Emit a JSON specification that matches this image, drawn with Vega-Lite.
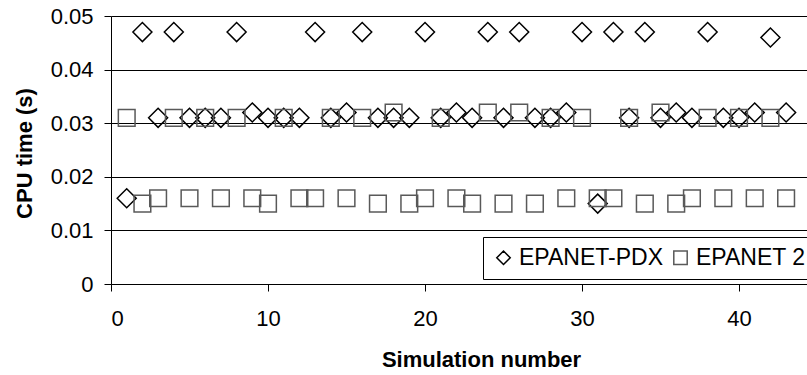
{
  "$schema": "https://vega.github.io/schema/vega-lite/v6.json",
  "width": 696,
  "height": 268,
  "autosize": {"type": "none"},
  "padding": {"left": 111, "top": 16, "right": 0, "bottom": 91},
  "background": "white",
  "config": {
    "font": "Liberation Sans",
    "view": {"stroke": null},
    "axis": {
      "labelFont": "Liberation Sans",
      "titleFont": "Liberation Sans",
      "labelFontSize": 22,
      "titleFontSize": 22,
      "titleFontWeight": "bold",
      "labelColor": "#000",
      "titleColor": "#000",
      "domainColor": "#000",
      "tickColor": "#000",
      "gridColor": "#000",
      "gridOpacity": 1,
      "tickSize": 7
    },
    "legend": {
      "labelFont": "Liberation Sans",
      "labelFontSize": 23,
      "labelColor": "#000"
    }
  },
  "data": {
    "values": [
      {"sim": 1, "model": "EPANET-PDX", "cpu": 0.016},
      {"sim": 2, "model": "EPANET-PDX", "cpu": 0.047},
      {"sim": 3, "model": "EPANET-PDX", "cpu": 0.031},
      {"sim": 4, "model": "EPANET-PDX", "cpu": 0.047},
      {"sim": 5, "model": "EPANET-PDX", "cpu": 0.031},
      {"sim": 6, "model": "EPANET-PDX", "cpu": 0.031},
      {"sim": 7, "model": "EPANET-PDX", "cpu": 0.031},
      {"sim": 8, "model": "EPANET-PDX", "cpu": 0.047},
      {"sim": 9, "model": "EPANET-PDX", "cpu": 0.032},
      {"sim": 10, "model": "EPANET-PDX", "cpu": 0.031},
      {"sim": 11, "model": "EPANET-PDX", "cpu": 0.031},
      {"sim": 12, "model": "EPANET-PDX", "cpu": 0.031},
      {"sim": 13, "model": "EPANET-PDX", "cpu": 0.047},
      {"sim": 14, "model": "EPANET-PDX", "cpu": 0.031},
      {"sim": 15, "model": "EPANET-PDX", "cpu": 0.032},
      {"sim": 16, "model": "EPANET-PDX", "cpu": 0.047},
      {"sim": 17, "model": "EPANET-PDX", "cpu": 0.031},
      {"sim": 18, "model": "EPANET-PDX", "cpu": 0.031},
      {"sim": 19, "model": "EPANET-PDX", "cpu": 0.031},
      {"sim": 20, "model": "EPANET-PDX", "cpu": 0.047},
      {"sim": 21, "model": "EPANET-PDX", "cpu": 0.031},
      {"sim": 22, "model": "EPANET-PDX", "cpu": 0.032},
      {"sim": 23, "model": "EPANET-PDX", "cpu": 0.031},
      {"sim": 24, "model": "EPANET-PDX", "cpu": 0.047},
      {"sim": 25, "model": "EPANET-PDX", "cpu": 0.031},
      {"sim": 26, "model": "EPANET-PDX", "cpu": 0.047},
      {"sim": 27, "model": "EPANET-PDX", "cpu": 0.031},
      {"sim": 28, "model": "EPANET-PDX", "cpu": 0.031},
      {"sim": 29, "model": "EPANET-PDX", "cpu": 0.032},
      {"sim": 30, "model": "EPANET-PDX", "cpu": 0.047},
      {"sim": 31, "model": "EPANET-PDX", "cpu": 0.015},
      {"sim": 32, "model": "EPANET-PDX", "cpu": 0.047},
      {"sim": 33, "model": "EPANET-PDX", "cpu": 0.031},
      {"sim": 34, "model": "EPANET-PDX", "cpu": 0.047},
      {"sim": 35, "model": "EPANET-PDX", "cpu": 0.031},
      {"sim": 36, "model": "EPANET-PDX", "cpu": 0.032},
      {"sim": 37, "model": "EPANET-PDX", "cpu": 0.031},
      {"sim": 38, "model": "EPANET-PDX", "cpu": 0.047},
      {"sim": 39, "model": "EPANET-PDX", "cpu": 0.031},
      {"sim": 40, "model": "EPANET-PDX", "cpu": 0.031},
      {"sim": 41, "model": "EPANET-PDX", "cpu": 0.032},
      {"sim": 42, "model": "EPANET-PDX", "cpu": 0.046},
      {"sim": 43, "model": "EPANET-PDX", "cpu": 0.032},
      {"sim": 1, "model": "EPANET 2", "cpu": 0.031},
      {"sim": 2, "model": "EPANET 2", "cpu": 0.015},
      {"sim": 3, "model": "EPANET 2", "cpu": 0.016},
      {"sim": 4, "model": "EPANET 2", "cpu": 0.031},
      {"sim": 5, "model": "EPANET 2", "cpu": 0.016},
      {"sim": 6, "model": "EPANET 2", "cpu": 0.031},
      {"sim": 7, "model": "EPANET 2", "cpu": 0.016},
      {"sim": 8, "model": "EPANET 2", "cpu": 0.031},
      {"sim": 9, "model": "EPANET 2", "cpu": 0.016},
      {"sim": 10, "model": "EPANET 2", "cpu": 0.015},
      {"sim": 11, "model": "EPANET 2", "cpu": 0.031},
      {"sim": 12, "model": "EPANET 2", "cpu": 0.016},
      {"sim": 13, "model": "EPANET 2", "cpu": 0.016},
      {"sim": 14, "model": "EPANET 2", "cpu": 0.031},
      {"sim": 15, "model": "EPANET 2", "cpu": 0.016},
      {"sim": 16, "model": "EPANET 2", "cpu": 0.031},
      {"sim": 17, "model": "EPANET 2", "cpu": 0.015},
      {"sim": 18, "model": "EPANET 2", "cpu": 0.032},
      {"sim": 19, "model": "EPANET 2", "cpu": 0.015},
      {"sim": 20, "model": "EPANET 2", "cpu": 0.016},
      {"sim": 21, "model": "EPANET 2", "cpu": 0.031},
      {"sim": 22, "model": "EPANET 2", "cpu": 0.016},
      {"sim": 23, "model": "EPANET 2", "cpu": 0.015},
      {"sim": 24, "model": "EPANET 2", "cpu": 0.032},
      {"sim": 25, "model": "EPANET 2", "cpu": 0.015},
      {"sim": 26, "model": "EPANET 2", "cpu": 0.032},
      {"sim": 27, "model": "EPANET 2", "cpu": 0.015},
      {"sim": 28, "model": "EPANET 2", "cpu": 0.031},
      {"sim": 29, "model": "EPANET 2", "cpu": 0.016},
      {"sim": 30, "model": "EPANET 2", "cpu": 0.031},
      {"sim": 31, "model": "EPANET 2", "cpu": 0.016},
      {"sim": 32, "model": "EPANET 2", "cpu": 0.016},
      {"sim": 33, "model": "EPANET 2", "cpu": 0.031},
      {"sim": 34, "model": "EPANET 2", "cpu": 0.015},
      {"sim": 35, "model": "EPANET 2", "cpu": 0.032},
      {"sim": 36, "model": "EPANET 2", "cpu": 0.015},
      {"sim": 37, "model": "EPANET 2", "cpu": 0.016},
      {"sim": 38, "model": "EPANET 2", "cpu": 0.031},
      {"sim": 39, "model": "EPANET 2", "cpu": 0.016},
      {"sim": 40, "model": "EPANET 2", "cpu": 0.031},
      {"sim": 41, "model": "EPANET 2", "cpu": 0.016},
      {"sim": 42, "model": "EPANET 2", "cpu": 0.031},
      {"sim": 43, "model": "EPANET 2", "cpu": 0.016}
    ]
  },
  "encoding": {
    "x": {
      "field": "sim",
      "type": "quantitative",
      "scale": {"domain": [0, 44.33], "nice": false, "zero": false},
      "axis": {
        "values": [0, 10, 20, 30, 40],
        "grid": false,
        "title": "Simulation number",
        "labelPadding": 17,
        "titleX": 370,
        "titleY": 82,
        "titleBaseline": "alphabetic",
        "titleAlign": "center"
      }
    },
    "y": {
      "field": "cpu",
      "type": "quantitative",
      "scale": {"domain": [0, 0.05], "nice": false},
      "axis": {
        "values": [0, 0.01, 0.02, 0.03, 0.04, 0.05],
        "format": "~g",
        "grid": true,
        "title": "CPU time (s)",
        "labelPadding": 11,
        "titleX": -80,
        "titleY": 137,
        "titleBaseline": "alphabetic",
        "titleAlign": "center"
      }
    },
    "shape": {
      "field": "model",
      "type": "nominal",
      "scale": {"domain": ["EPANET-PDX", "EPANET 2"], "range": ["diamond", "square"]},
      "legend": {
        "title": null,
        "orient": "none",
        "legendX": 372,
        "legendY": 221,
        "direction": "horizontal",
        "strokeColor": "#000",
        "fillColor": "#fff",
        "padding": 9,
        "symbolSize": 180,
        "symbolStrokeWidth": 1.5,
        "labelOffset": 4,
        "columnPadding": 6,
        "encode": {
          "symbols": {
            "update": {
              "size": {"signal": "datum.value === 'EPANET 2' ? 121 : 196"}
            }
          }
        }
      }
    },
    "stroke": {
      "field": "model",
      "type": "nominal",
      "scale": {"domain": ["EPANET-PDX", "EPANET 2"], "range": ["#000000", "#595959"]},
      "legend": {
        "title": null,
        "orient": "none",
        "legendX": 372,
        "legendY": 221,
        "direction": "horizontal",
        "strokeColor": "#000",
        "fillColor": "#fff",
        "padding": 9,
        "symbolSize": 180,
        "symbolStrokeWidth": 1.5,
        "labelOffset": 4,
        "columnPadding": 6,
        "encode": {
          "symbols": {
            "update": {
              "size": {"signal": "datum.value === 'EPANET 2' ? 121 : 196"}
            }
          }
        }
      }
    }
  },
  "layer": [
    {
      "transform": [{"filter": "datum.model === 'EPANET-PDX'"}],
      "mark": {"type": "point", "filled": false, "strokeWidth": 1.5, "opacity": 1, "size": 361}
    },
    {
      "transform": [{"filter": "datum.model === 'EPANET 2'"}],
      "mark": {"type": "point", "filled": false, "strokeWidth": 1.5, "opacity": 1, "size": 279}
    }
  ]
}
